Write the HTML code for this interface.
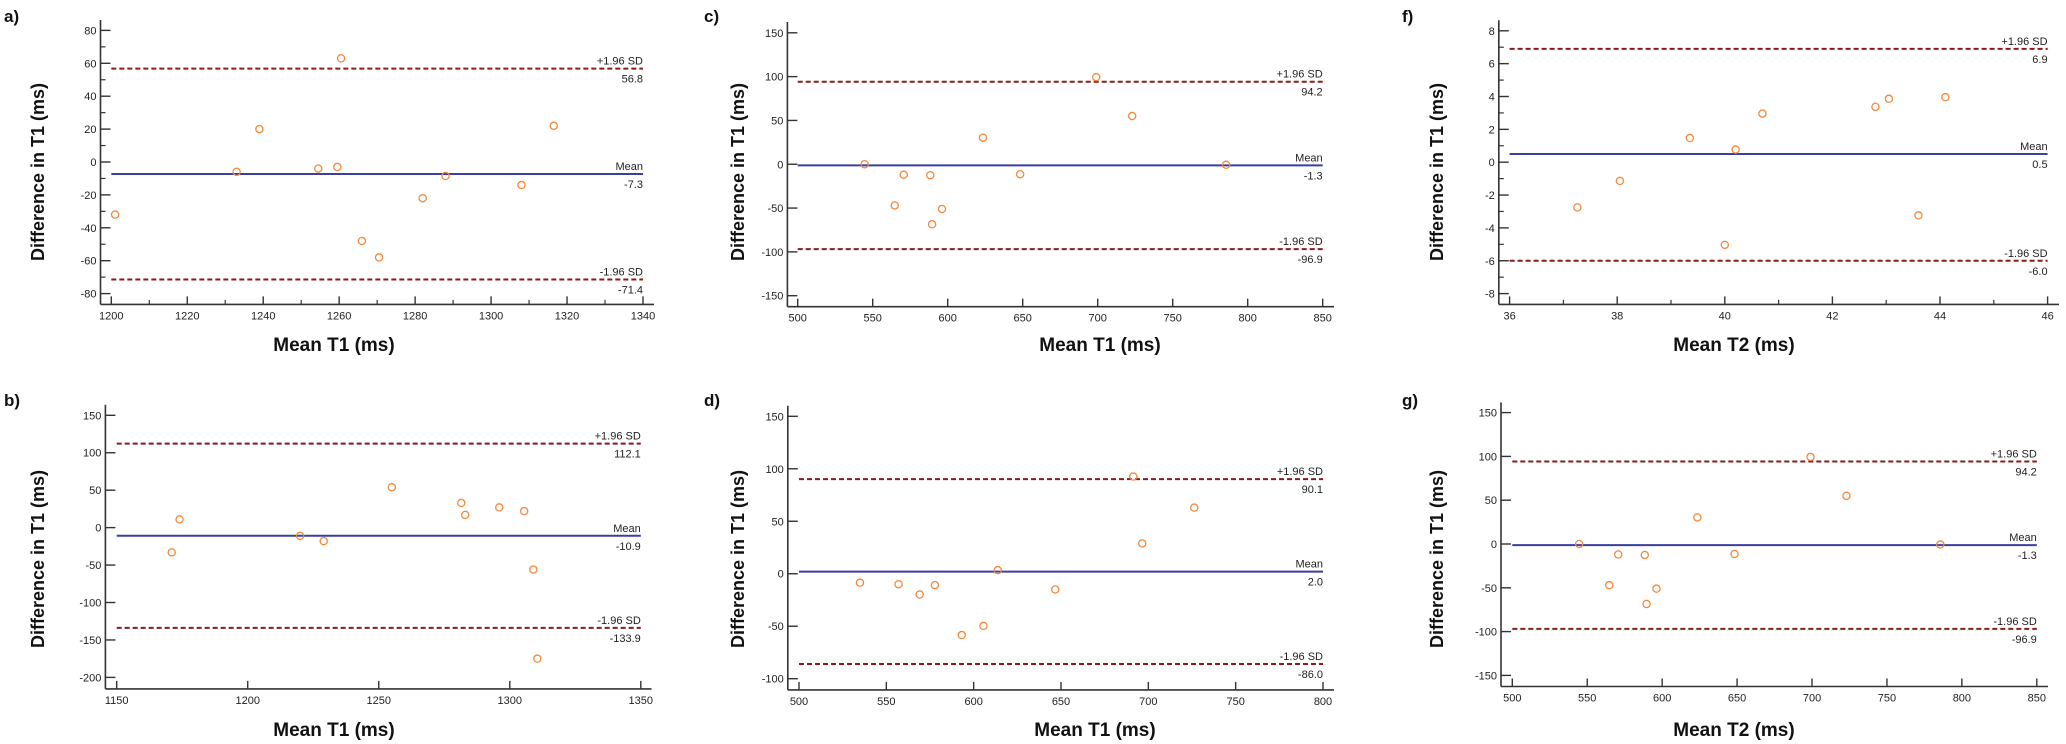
<!DOCTYPE html>
<html><head><meta charset="utf-8"><style>
html,body{margin:0;padding:0;background:#fff;}
svg{display:block;font-family:"Liberation Sans",Arial,sans-serif;}
</style></head><body>
<svg id="fig" width="2066" height="744" viewBox="0 0 2066 744" xmlns="http://www.w3.org/2000/svg"></svg>
<script>
// ---- data ----
const aX=[1201,1233,1239,1254.5,1259.5,1260.5,1266,1270.5,1282,1288,1308,1316.5];
const aY=[-32,-6,20,-4,-3,63,-48,-58,-22,-8.5,-14,22];
const aStats=[56.8,-7.3,-71.4];
const bX=[1171,1174,1220,1229,1255,1281.5,1283,1296,1305.5,1309,1310.5];
const bY=[-33,11,-11,-18,54,33,17,27,22,-56,-175];
const bStats=[112.1,-10.9,-133.9];
const cX=[544.6,564.7,570.7,588.4,589.6,596.2,623.5,648.3,699,723,785.6];
const cY=[0,-47,-12,-12.5,-68.5,-51,30.3,-11.4,99.4,55,-0.6];
const cStats=[94.2,-1.3,-96.9];
const dX=[534.9,557,569.1,577.8,593.2,605.6,613.8,646.7,691.4,696.5,726.3];
const dY=[-8.5,-10,-19.8,-10.8,-58.4,-49.7,3.4,-15,92.6,28.9,63];
const dStats=[90.1,2.0,-86.0];
const fX=[37.26,38.05,39.35,40.0,40.2,40.7,42.8,43.05,43.6,44.1];
const fY=[-2.75,-1.14,1.47,-5.03,0.77,2.96,3.37,3.86,-3.24,3.96];
const fStats=[6.9,0.5,-6.0];
const gX=cX.slice();
const gY=cY.slice();
const gStats=[94.2,-1.3,-96.9];
const aXTicks=[1200,1220,1240,1260,1280,1300,1320,1340];
const aYTicks=[80,60,40,20,0,-20,-40,-60,-80];
const bXTicks=[1150,1200,1250,1300,1350];
const bYTicks=[150,100,50,0,-50,-100,-150,-200];
const cXTicks=[500,550,600,650,700,750,800,850];
const cYTicks=[150,100,50,0,-50,-100,-150];
const dXTicks=[500,550,600,650,700,750,800];
const dYTicks=[150,100,50,0,-50,-100];
const fXTicks=[36,38,40,42,44,46];
const fYTicks=[8,6,4,2,0,-2,-4,-6,-8];
const gXTicks=cXTicks.slice();
const gYTicks=cYTicks.slice();

const NS="http://www.w3.org/2000/svg";
const svg=document.getElementById('fig');
function mk(tag,attrs,parent){const e=document.createElementNS(NS,tag);for(const k in attrs)e.setAttribute(k,attrs[k]);(parent||svg).appendChild(e);return e;}
function fmt(v){return Number.isInteger(v)?String(v):v.toFixed(1);}

function panel(p){
  const g=mk('g',{});
  
  
  const xt=p.xt, yt=p.yt;
  const x0=xt[0], x1=xt[xt.length-1], y0=yt[0], y1=yt[yt.length-1];
  const X=v=>p.px0+(v-x0)*(p.px1-p.px0)/(x1-x0);
  const Y=v=>p.py0+(v-y0)*(p.py1-p.py0)/(y1-y0);
  // panel letter
  const lt=mk('text',{x:p.lx,y:p.ly,'font-size':17,'font-weight':'bold',fill:'#111'},g);
  lt.textContent=p.id+')';
  
  
  // axes
  const ya=mk('line',{x1:p.ax,y1:p.atop,x2:p.ax,y2:p.ay,stroke:'#333','stroke-width':1.6},g);
  
  
  const xa=mk('line',{x1:p.ax,y1:p.ay,x2:p.aend,y2:p.ay,stroke:'#333','stroke-width':1.6},g);
  
  
  // x ticks
  const xstep=xt[1]-xt[0];
  xt.forEach((v,i)=>{
    const x=X(v);
    mk('line',{x1:x,y1:p.ay,x2:x,y2:p.ay-8,stroke:'#333','stroke-width':1.4},g);
    const t=mk('text',{x:x,y:p.ay+15,'font-size':11,'text-anchor':'middle',fill:'#222'},g);
    t.textContent=fmt(v);
    
    
    if(p.xminor&&i<xt.length-1){const xm=X(v+xstep/2);mk('line',{x1:xm,y1:p.ay,x2:xm,y2:p.ay-4.5,stroke:'#333','stroke-width':1.2},g);}
  });
  const ystep=yt[1]-yt[0];
  yt.forEach((v,i)=>{
    const y=Y(v);
    mk('line',{x1:p.ax,y1:y,x2:p.ax+10,y2:y,stroke:'#333','stroke-width':1.4},g);
    const t=mk('text',{x:p.ax-4,y:y+4,'font-size':11,'text-anchor':'end',fill:'#222'},g);
    t.textContent=fmt(v);
    
    
    if(p.yminor&&i<yt.length-1){const ym=Y(v+ystep/2);mk('line',{x1:p.ax,y1:ym,x2:p.ax+5,y2:ym,stroke:'#333','stroke-width':1.2},g);}
  });
  // titles
  const xtl=mk('text',{x:p.xtx,y:p.xty,'font-size':19,'text-anchor':'middle',fill:'#111','font-weight':'bold'},g);
  xtl.textContent=p.xtitle;
  
  
  const ytl=mk('text',{x:0,y:0,'font-size':18,'text-anchor':'middle',fill:'#111','font-weight':'bold',transform:`translate(${p.ytx},${p.yty}) rotate(-90)`},g);
  ytl.textContent='Difference in T1  (ms)';
  
  
  // lines
  const st=p.stats;
  const names=['upper-loa','mean','lower-loa'];
  const tags=['+1.96 SD','Mean','-1.96 SD'];
  st.forEach((v,i)=>{
    const y=Y(v);
    const ln=mk('line',{x1:X(x0),y1:y,x2:X(x1),y2:y,stroke:i===1?'#3a3fa0':'#8b1a1a','stroke-width':2,'stroke-dasharray':i===1?'none':'5,3'},g);
    
    
    const t1=mk('text',{x:X(x1),y:y-4,'font-size':11,'text-anchor':'end',fill:'#222'},g);
    t1.textContent=tags[i];
    
    
    const t2=mk('text',{x:X(x1),y:y+14,'font-size':11,'text-anchor':'end',fill:'#222'},g);
    t2.textContent=v.toFixed(1);
    
    
  });
  // points
  p.xs.forEach((v,i)=>{
    const c=mk('circle',{cx:X(v),cy:Y(p.ys[i]),r:3.6,fill:'none',stroke:'#f5883a','stroke-width':1.3},g);
    
    
  });
}

panel({id:'a',xs:aX,ys:aY,stats:aStats,xt:aXTicks,yt:aYTicks,xminor:true,yminor:true,
  px0:111.3,px1:643,py0:30.4,py1:293.6,ax:100.5,ay:304.4,atop:20,aend:654,
  lx:4,ly:22,xtx:334,xty:351,ytx:44,yty:172,xtitle:'Mean T1 (ms)'});
panel({id:'b',xs:bX,ys:bY,stats:bStats,xt:bXTicks,yt:bYTicks,xminor:false,yminor:false,
  px0:116.7,px1:640.8,py0:415.3,py1:677.4,ax:105.4,ay:688.9,atop:404.8,aend:651.5,
  lx:4,ly:406,xtx:334,xty:736,ytx:44,yty:559,xtitle:'Mean T1 (ms)'});
panel({id:'c',xs:cX,ys:cY,stats:cStats,xt:cXTicks,yt:cYTicks,xminor:false,yminor:false,
  px0:797.7,px1:1322.7,py0:32.8,py1:295.7,ax:787.4,ay:306.7,atop:22,aend:1334,
  lx:704,ly:22,xtx:1100,xty:351,ytx:744,yty:172,xtitle:'Mean T1 (ms)'});
panel({id:'d',xs:dX,ys:dY,stats:dStats,xt:dXTicks,yt:dYTicks,xminor:false,yminor:false,
  px0:799,px1:1323,py0:416.3,py1:678.7,ax:787.8,ay:689.9,atop:405.8,aend:1334,
  lx:704,ly:406,xtx:1095,xty:736,ytx:744,yty:559,xtitle:'Mean T1 (ms)'});
panel({id:'f',xs:fX,ys:fY,stats:fStats,xt:fXTicks,yt:fYTicks,xminor:true,yminor:true,
  px0:1509.6,px1:2047.6,py0:30.8,py1:293.6,ax:1498.8,ay:304.4,atop:20.3,aend:2059,
  lx:1402,ly:22,xtx:1734,xty:351,ytx:1443,yty:172,xtitle:'Mean T2 (ms)'});
panel({id:'g',xs:gX,ys:gY,stats:gStats,xt:gXTicks,yt:gYTicks,xminor:false,yminor:false,
  px0:1512.3,px1:2036.8,py0:412.6,py1:675.4,ax:1501,ay:686.5,atop:402.4,aend:2048,
  lx:1402,ly:406,xtx:1734,xty:736,ytx:1443,yty:559,xtitle:'Mean T2 (ms)'});
</script>
</body></html>
